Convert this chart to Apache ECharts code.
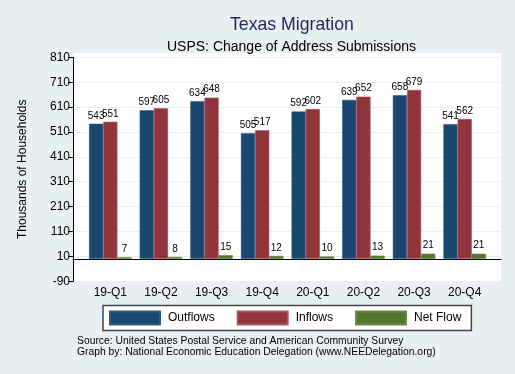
<!DOCTYPE html>
<html>
<head>
<meta charset="utf-8">
<script src="https://cdn.jsdelivr.net/npm/echarts@6/dist/echarts.min.js"></script>
<style>
html,body{margin:0;padding:0;background:#e8f0f2;}
#c{width:515px;height:374px;}
</style>
</head>
<body>
<div id="c"></div>
<script>
var categories = ['19-Q1','19-Q2','19-Q3','19-Q4','20-Q1','20-Q2','20-Q3','20-Q4'];
var outflows = [543, 597, 634, 505, 592, 639, 658, 541];
var inflows  = [551, 605, 648, 517, 602, 652, 679, 562];
var netFlow  = [7, 8, 15, 12, 10, 13, 21, 21];
var yMin = -90, yMax = 810, yStep = 100;

var FONT = 'Liberation Sans, Arial, Helvetica, sans-serif';
var chart = echarts.init(document.getElementById('c'));

function lbl() {
  return {show: true, position: 'top', distance: 3, color: '#000', fontFamily: FONT, fontSize: 10};
}

chart.setOption({
  backgroundColor: '#e8f0f2',
  animation: false,
  textStyle: {fontFamily: FONT},
  title: [
    {text: 'Texas Migration', left: 225, top: 11, textStyle: {fontFamily: FONT, fontSize: 17.7, fontWeight: 'normal', color: '#1c2a5c'}},
    {text: 'USPS: Change of Address Submissions', left: 162, top: 35, textStyle: {fontFamily: FONT, fontSize: 14, fontWeight: 'normal', color: '#000'}}
  ],
  graphic: [
    {type: 'rect', z: -1, shape: {x: 73, y: 53, width: 428, height: 228.5}, style: {fill: '#ffffff'}},
    {type: 'text', left: 77, top: 335, style: {text: 'Source: United States Postal Service and American Community Survey\nGraph by: National Economic Education Delegation (www.NEEDelegation.org)', font: '10.35px ' + FONT, fill: '#000', lineHeight: 11.5}}
  ],
  legend: {
    left: 103, top: 305.5,
    data: ['Outflows', 'Inflows', 'Net Flow'],
    icon: 'rect', itemWidth: 50, itemHeight: 13, itemGap: 22,
    padding: [5, 10, 5, 6],
    backgroundColor: '#fff', borderColor: '#444', borderWidth: 1.5,
    textStyle: {fontFamily: FONT, fontSize: 12, color: '#000', padding: [0, 0, 0, 3]}
  },
  grid: [
    {left: 73, right: 14, top: 57.3, bottom: 92.7},
    {left: 85, right: 25, top: 57.3, bottom: 92.7}
  ],
  xAxis: [
    {type: 'category', gridIndex: 0, data: categories, axisLabel: {show: false}, axisTick: {show: false},
     axisLine: {lineStyle: {color: '#000', width: 1}}},
    {type: 'category', gridIndex: 1, data: categories, axisTick: {show: false}, axisLine: {show: false},
     axisLabel: {fontFamily: FONT, fontSize: 12, color: '#000', margin: 5}}
  ],
  yAxis: [
    {type: 'value', gridIndex: 0, min: yMin, max: yMax, interval: yStep,
     name: 'Thousands of Households', nameLocation: 'middle', nameGap: 44, nameRotate: 90,
     nameTextStyle: {fontFamily: FONT, fontSize: 12, color: '#000'},
     axisLine: {show: true, lineStyle: {color: '#000', width: 1}},
     axisTick: {show: true, length: 5, lineStyle: {color: '#000'}},
     axisLabel: {fontFamily: FONT, fontSize: 12, color: '#000', margin: 3},
     splitLine: {show: true, lineStyle: {color: '#eaf1f3', width: 1}}},
    {type: 'value', gridIndex: 1, min: yMin, max: yMax, interval: yStep, show: false, splitLine: {show: false}}
  ],
  series: [
    {name: 'Outflows', type: 'bar', xAxisIndex: 1, yAxisIndex: 1, data: outflows, barGap: '0%', barCategoryGap: '16%',
     itemStyle: {color: '#1a476f', borderColor: '#2f5a80', borderWidth: 0.6}, label: lbl()},
    {name: 'Inflows', type: 'bar', xAxisIndex: 1, yAxisIndex: 1, data: inflows, barGap: '0%', barCategoryGap: '16%',
     itemStyle: {color: '#90353b', borderColor: '#a8565b', borderWidth: 0.6}, label: lbl()},
    {name: 'Net Flow', type: 'bar', xAxisIndex: 1, yAxisIndex: 1, data: netFlow, barGap: '0%', barCategoryGap: '16%',
     itemStyle: {color: '#55752f', borderColor: '#6b8a48', borderWidth: 0.6}, label: lbl()}
  ]
});
</script>
</body>
</html>
